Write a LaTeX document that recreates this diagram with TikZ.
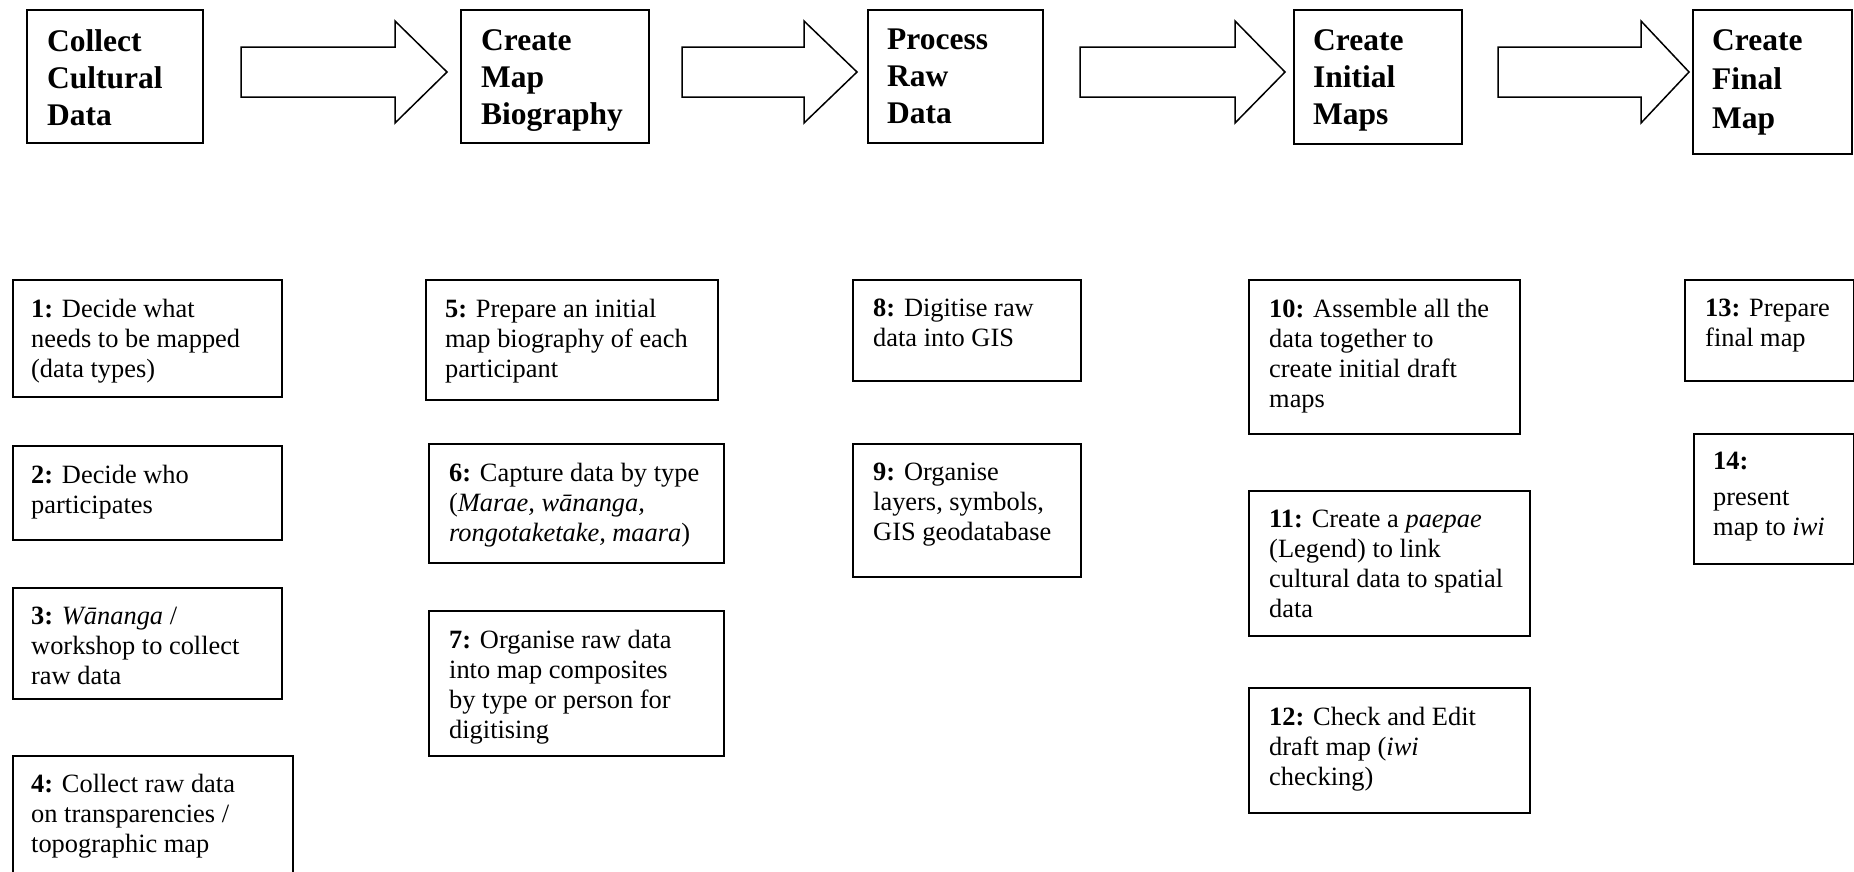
\documentclass[tikz,border=0pt]{standalone}
\usepackage{fontspec}
\setmainfont{Liberation Serif}
\begin{document}
\begin{tikzpicture}[x=1pt,y=-1pt,
  boxst/.style={draw, line width=1.5pt, inner sep=0pt, anchor=north west},
  bodytxt/.style={inner sep=0pt, anchor=north west, align=left, font=\fontsize{26.4}{30}\selectfont},
  headtxt/.style={inner sep=0pt, anchor=north west, align=left, font=\fontsize{31.5}{37}\selectfont\bfseries},
  blockarr/.style={draw, line width=1.5pt, fill=white, line join=miter}]
\useasboundingbox (0,0) rectangle (1854,871);
\newcommand\bx[5]{\node[boxst, minimum width=#4pt, minimum height=#5pt] (#1) at (#2,#3) {};}
\newcommand\barrow[3]{\draw[blockarr] (#1,47) -- (#2,47) -- (#2,21) -- (#3,72) -- (#2,123) -- (#2,97) -- (#1,97) -- cycle;}
% top stage boxes
\bx{A}{26}{9}{176}{133}
\bx{B}{460}{9}{188}{133}
\bx{C}{867}{9}{175}{133}
\bx{D}{1293}{9}{168}{134}
\bx{E}{1692}{9}{159}{144}
\node[headtxt] (tA) at ([shift={(21pt,-20pt)}]A.north west) {Collect\\Cultural\\Data};
\node[headtxt] (tB) at ([shift={(21pt,-20pt)}]B.north west) {Create\\Map\\Biography};
\node[headtxt] (tC) at ([shift={(20pt,-20pt)}]C.north west) {Process\\Raw\\Data};
\node[headtxt] (tD) at ([shift={(20pt,-20pt)}]D.north west) {Create\\Initial\\Maps};
\node[headtxt, font=\fontsize{31.5}{39}\selectfont\bfseries] (tE) at ([shift={(20pt,-20pt)}]E.north west) {Create\\Final\\Map};
% block arrows
\barrow{241}{395}{447}
\barrow{682}{804}{857}
\barrow{1080}{1235}{1285}
\barrow{1498}{1641}{1689}
% step boxes
\bx{b1}{12}{279}{269}{117}
\bx{b2}{12}{445}{269}{94}
\bx{b3}{12}{587}{269}{111}
\bx{b4}{12}{755}{280}{130}
\bx{b5}{425}{279}{292}{120}
\bx{b6}{428}{443}{295}{119}
\bx{b7}{428}{610}{295}{145}
\bx{b8}{852}{279}{228}{101}
\bx{b9}{852}{443}{228}{133}
\bx{b10}{1248}{279}{271}{154}
\bx{b11}{1248}{490}{281}{145}
\bx{b12}{1248}{687}{281}{125}
\bx{b13}{1684}{279}{169}{101}
\bx{b14}{1693}{433}{160}{130}
\node[bodytxt] (t1) at ([shift={(19pt,-20pt)}]b1.north west) {\textbf{1:} Decide what\\needs to be mapped\\(data types)};
\node[bodytxt] (t2) at ([shift={(19pt,-20pt)}]b2.north west) {\textbf{2:} Decide who\\participates};
\node[bodytxt] (t3) at ([shift={(19pt,-20pt)}]b3.north west) {\textbf{3:} \textit{Wānanga} /\\workshop to collect\\raw data};
\node[bodytxt] (t4) at ([shift={(19pt,-19pt)}]b4.north west) {\textbf{4:} Collect raw data\\on transparencies /\\topographic map};
\node[bodytxt] (t5) at ([shift={(20pt,-20pt)}]b5.north west) {\textbf{5:} Prepare an initial\\map biography of each\\participant};
\node[bodytxt] (t6) at ([shift={(21pt,-20pt)}]b6.north west) {\textbf{6:} Capture data by type\\(\textit{Marae, wānanga,}\\\textit{rongotaketake, maara})};
\node[bodytxt] (t7) at ([shift={(21pt,-20pt)}]b7.north west) {\textbf{7:} Organise raw data\\into map composites\\by type or person for\\digitising};
\node[bodytxt] (t8) at ([shift={(21pt,-20pt)}]b8.north west) {\textbf{8:} Digitise raw\\data into GIS};
\node[bodytxt] (t9) at ([shift={(21pt,-20pt)}]b9.north west) {\textbf{9:} Organise\\layers, symbols,\\GIS geodatabase};
\node[bodytxt] (t10) at ([shift={(21pt,-20pt)}]b10.north west) {\textbf{10:} Assemble all the\\data together to\\create initial draft\\maps};
\node[bodytxt] (t11) at ([shift={(21pt,-20pt)}]b11.north west) {\textbf{11:} Create a \textit{paepae}\\(Legend) to link\\cultural data to spatial\\data};
\node[bodytxt] (t12) at ([shift={(21pt,-20pt)}]b12.north west) {\textbf{12:} Check and Edit\\draft map (\textit{iwi}\\checking)};
\node[bodytxt] (t13) at ([shift={(21pt,-20pt)}]b13.north west) {\textbf{13:} Prepare\\final map};
\node[bodytxt] (t14) at ([shift={(20pt,-19pt)}]b14.north west) {\textbf{14:}\\[6pt]present\\map to \textit{iwi}};
\end{tikzpicture}
\end{document}
